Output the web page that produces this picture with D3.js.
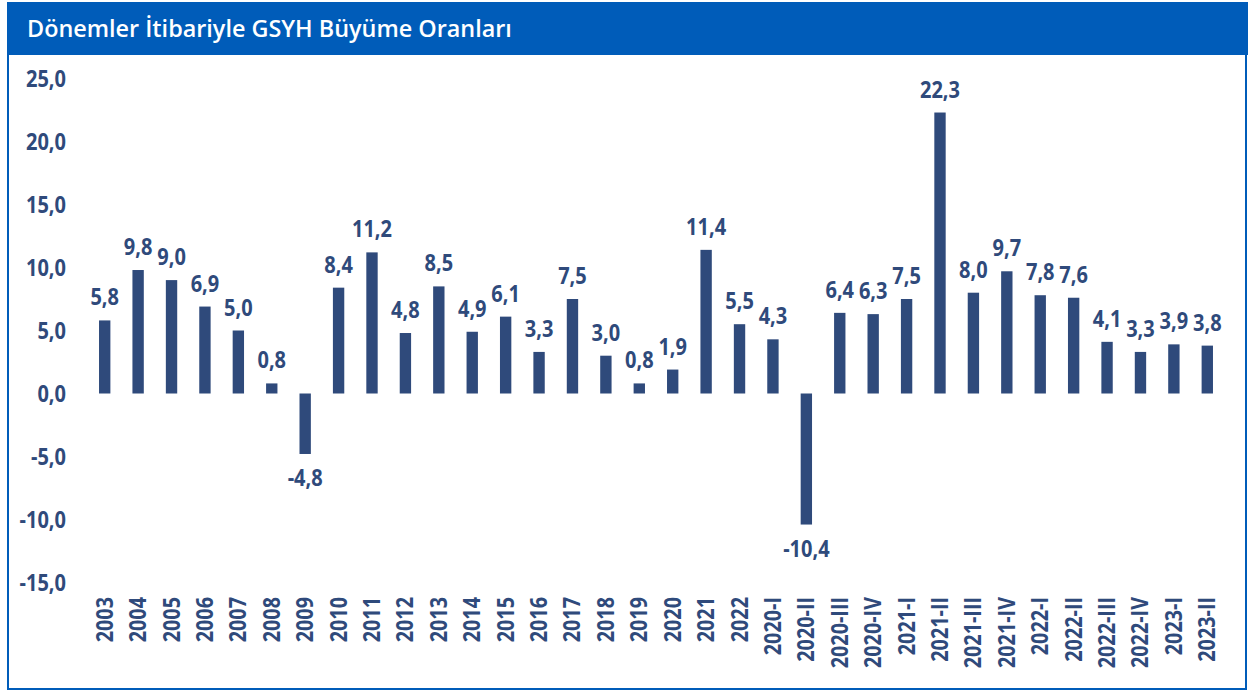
<!DOCTYPE html>
<html>
<head>
<meta charset="utf-8">
<script src="https://cdn.jsdelivr.net/npm/d3@7"></script>
<style>
  body { margin: 0; background: #fff; }
  svg { display: block; }
</style>
</head>
<body>
<svg id="chart"></svg>
<script>
// periods on the x axis (years, then quarters)
const periods = ["2003", "2004", "2005", "2006", "2007", "2008", "2009", "2010", "2011", "2012",
    "2013", "2014", "2015", "2016", "2017", "2018", "2019", "2020", "2021", "2022",
    "2020-I", "2020-II", "2020-III", "2020-IV", "2021-I", "2021-II", "2021-III", "2021-IV",
    "2022-I", "2022-II", "2022-III", "2022-IV", "2023-I", "2023-II"];

// growth rates (%)
const growth = [5.8, 9.8, 9.0, 6.9, 5.0, 0.8, -4.8, 8.4, 11.2, 4.8,
    8.5, 4.9, 6.1, 3.3, 7.5, 3.0, 0.8, 1.9, 11.4, 5.5,
    4.3, -10.4, 6.4, 6.3, 7.5, 22.3, 8.0, 9.7,
    7.8, 7.6, 4.1, 3.3, 3.9, 3.8];

const yTicks = [25, 20, 15, 10, 5, 0, -5, -10, -15];

const title = "Dönemler İtibariyle GSYH Büyüme Oranları";

const W = 1256, H = 691;
const blue = "#005cb9";
const navy = "#2f4a7b";
const squeeze = 0.89; // narrow the glyphs a bit, the original font is condensed

// turkish style numbers: comma decimal, plain hyphen for minus
const trLocale = d3.formatLocale({ decimal: ",", thousands: ".", grouping: [3], currency: ["", " TL"], minus: "-" });
const fmt = trLocale.format(".1f");

const svg = d3.select("#chart").attr("width", W).attr("height", H);

// frame
svg.append("rect")
    .attr("x", 8).attr("y", 3)
    .attr("width", 1238).attr("height", 686)
    .attr("fill", "none")
    .attr("stroke", blue)
    .attr("stroke-width", 2);

// title band
svg.append("rect")
    .attr("x", 7).attr("y", 2)
    .attr("width", 1241).attr("height", 53)
    .attr("fill", blue);

svg.append("text")
    .attr("transform", "translate(27,36.5) scale(0.975,1)")
    .attr("fill", "#fff")
    .style("font-family", "'Open Sans', sans-serif")
    .style("font-weight", 600)
    .style("font-size", "24px")
    .text(title);

const x = d3.scaleBand()
    .domain(periods)
    .range([88, 1224])
    .paddingInner(0.66)
    .paddingOuter(0.33);

const y = d3.scaleLinear()
    .domain([-15, 25])
    .range([582.5, 78.5]);

const labelFont = g => g
    .style("font-family", "'Open Sans', sans-serif")
    .style("font-weight", 700)
    .style("font-size", "22.5px")
    .attr("fill", navy);

// y axis labels (no line, no ticks)
const yAxis = svg.append("g")
    .attr("transform", "translate(66,0)")
    .call(d3.axisLeft(y).tickValues(yTicks).tickFormat(fmt).tickSize(0).tickPadding(0));
yAxis.select(".domain").remove();
yAxis.selectAll("text")
    .call(labelFont)
    .attr("dy", "0.36em")
    .attr("transform", `scale(${squeeze},1)`);

// bars
svg.append("g")
    .selectAll("rect")
    .data(periods)
    .join("rect")
    .attr("x", d => x(d))
    .attr("width", x.bandwidth())
    .attr("y", (d, i) => y(Math.max(0, growth[i])))
    .attr("height", (d, i) => Math.abs(y(growth[i]) - y(0)))
    .attr("fill", navy);

// value labels
svg.append("g")
    .selectAll("text")
    .data(periods)
    .join("text")
    .attr("transform", (d, i) => {
        const cx = x(d) + x.bandwidth() / 2;
        const cy = growth[i] >= 0 ? y(growth[i]) - 15 : y(growth[i]) + 32;
        return `translate(${cx},${cy}) scale(${squeeze},1)`;
    })
    .attr("text-anchor", "middle")
    .call(labelFont)
    .text((d, i) => fmt(growth[i]));

// x axis labels, rotated
const xAxis = svg.append("g")
    .attr("transform", "translate(0,597)")
    .call(d3.axisBottom(x).tickSize(0).tickPadding(0));
xAxis.select(".domain").remove();
xAxis.selectAll("text")
    .call(labelFont)
    .attr("text-anchor", "end")
    .attr("dy", null)
    .attr("y", 0)
    .attr("x", 0)
    .attr("transform", `rotate(-90) translate(0,8) scale(0.88,1)`);
</script>
</body>
</html>
